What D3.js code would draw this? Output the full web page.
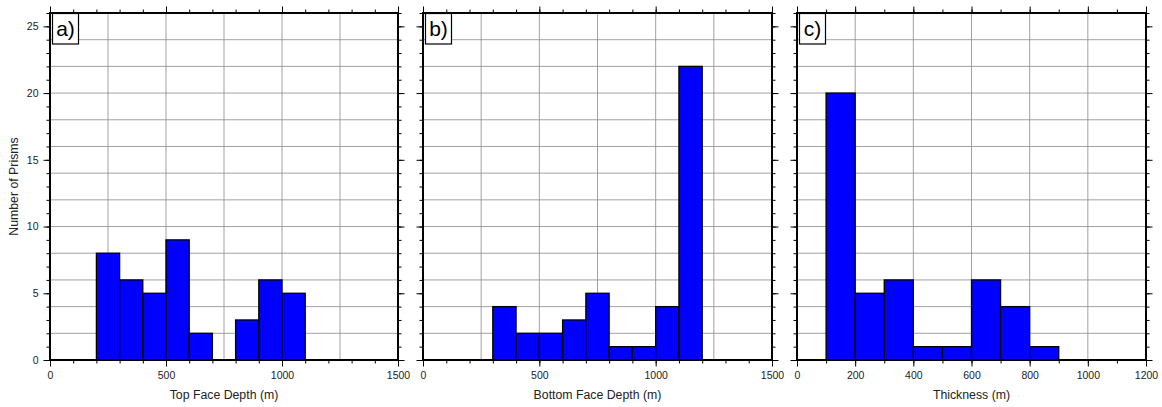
<!DOCTYPE html>
<html>
<head>
<meta charset="utf-8">
<script src="https://cdn.jsdelivr.net/npm/d3@7"></script>
<style>
  body { margin: 0; background: #fff; }
  text { font-family: "Liberation Sans", Arial, sans-serif; }
</style>
</head>
<body>
<div id="chart"></div>
<script>
// histogram data, bins of 100 m
const topBinStart = [200, 300, 400, 500, 600, 700, 800, 900, 1000];
const topCounts = [8, 6, 5, 9, 2, 0, 3, 6, 5];

const bottomBinStart = [300, 400, 500, 600, 700, 800, 900, 1000, 1100];
const bottomCounts = [4, 2, 2, 3, 5, 1, 1, 4, 22];

const thickBinStart = [100, 200, 300, 400, 500, 600, 700, 800];
const thickCounts = [20, 5, 6, 1, 1, 6, 4, 1];

const panelLabels = ["a)", "b)", "c)"];
const xTitles = ["Top Face Depth (m)", "Bottom Face Depth (m)", "Thickness (m)"];
const binWidth = 100;

const width = 1162;
const height = 407;

const panels = [
  { left: 50, right: 398, xmax: 1500, grid: 250, major: 500, starts: topBinStart, counts: topCounts },
  { left: 423, right: 772, xmax: 1500, grid: 250, major: 500, starts: bottomBinStart, counts: bottomCounts },
  { left: 797, right: 1146, xmax: 1200, grid: 200, major: 200, starts: thickBinStart, counts: thickCounts }
];
const plotTop = 13, plotBottom = 360;

const svg = d3.select("#chart")
  .append("svg")
  .attr("width", width)
  .attr("height", height);

const y = d3.scaleLinear().domain([0, 26]).range([plotBottom, plotTop]);

panels.forEach((p, i) => {
  const x = d3.scaleLinear().domain([0, p.xmax]).range([p.left, p.right]);
  const g = svg.append("g");

  // grid
  g.selectAll("line.vg")
    .data(d3.range(p.grid, p.xmax, p.grid))
    .enter().append("line")
    .attr("x1", d => x(d)).attr("x2", d => x(d))
    .attr("y1", plotTop).attr("y2", plotBottom)
    .attr("stroke", "#8a8a8a").attr("stroke-width", 0.8);
  g.selectAll("line.hg")
    .data(d3.range(2, 26, 2))
    .enter().append("line")
    .attr("x1", p.left).attr("x2", p.right)
    .attr("y1", d => y(d)).attr("y2", d => y(d))
    .attr("stroke", "#8a8a8a").attr("stroke-width", 0.8);

  // bars
  const bars = p.starts.map((s, k) => ({ x0: s, x1: s + binWidth, count: p.counts[k] }));
  g.selectAll("rect.bar")
    .data(bars.filter(d => d.count > 0))
    .enter().append("rect")
    .attr("x", d => x(d.x0))
    .attr("y", d => y(d.count))
    .attr("width", d => x(d.x1) - x(d.x0))
    .attr("height", d => y(0) - y(d.count))
    .attr("fill", "#0000ff")
    .attr("stroke", "#000")
    .attr("stroke-width", 1.3);

  // axes with major + minor ticks
  const minorX = d3.range(0, p.xmax + 1, 100);
  const minorY = d3.range(0, 27, 1);
  const tickFont = g => g.selectAll("text").style("font-size", "10.5px").attr("fill", "#222");
  const clean = g => { g.select(".domain").remove(); g.selectAll("line").attr("stroke", "#000"); };

  [["b", d3.axisBottom, plotBottom], ["t", d3.axisTop, plotTop]].forEach(([k, ax, pos]) => {
    g.append("g").attr("transform", `translate(0,${pos})`)
      .call(ax(x).tickValues(minorX).tickSize(3.5).tickFormat(""))
      .call(clean);
    g.append("g").attr("transform", `translate(0,${pos})`)
      .call(ax(x).tickValues(d3.range(0, p.xmax + 1, p.major)).tickSize(6.5).tickPadding(5)
        .tickFormat(k === "b" ? d3.format("d") : ""))
      .call(clean).call(tickFont);
  });
  [["l", d3.axisLeft, p.left], ["r", d3.axisRight, p.right]].forEach(([k, ax, pos]) => {
    g.append("g").attr("transform", `translate(${pos},0)`)
      .call(ax(y).tickValues(minorY).tickSize(3.5).tickFormat(""))
      .call(clean);
    g.append("g").attr("transform", `translate(${pos},0)`)
      .call(ax(y).tickValues(d3.range(0, 26, 5)).tickSize(6.5).tickPadding(5)
        .tickFormat(k === "l" && i === 0 ? d3.format("d") : ""))
      .call(clean).call(tickFont);
  });

  // frame
  g.append("rect")
    .attr("x", p.left).attr("y", plotTop)
    .attr("width", p.right - p.left).attr("height", plotBottom - plotTop)
    .attr("fill", "none").attr("stroke", "#000").attr("stroke-width", 2);

  // panel label
  g.append("rect")
    .attr("x", p.left + 2.5).attr("y", plotTop + 0.5)
    .attr("width", 26).attr("height", 30.5)
    .attr("fill", "#fff").attr("stroke", "#000").attr("stroke-width", 1.2);
  g.append("text")
    .attr("x", p.left + 15.5).attr("y", plotTop + 23)
    .attr("text-anchor", "middle")
    .style("font-size", "21px")
    .text(panelLabels[i]);

  // x title
  g.append("text")
    .attr("x", (p.left + p.right) / 2)
    .attr("y", 399)
    .attr("text-anchor", "middle")
    .style("font-size", "12.3px")
    .attr("fill", "#222")
    .text(xTitles[i]);
});

svg.append("text")
  .attr("transform", "rotate(-90)")
  .attr("x", -(plotTop + plotBottom) / 2)
  .attr("y", 18)
  .attr("text-anchor", "middle")
  .style("font-size", "12.3px")
  .attr("fill", "#222")
  .text("Number of Prisms");
</script>
</body>
</html>
